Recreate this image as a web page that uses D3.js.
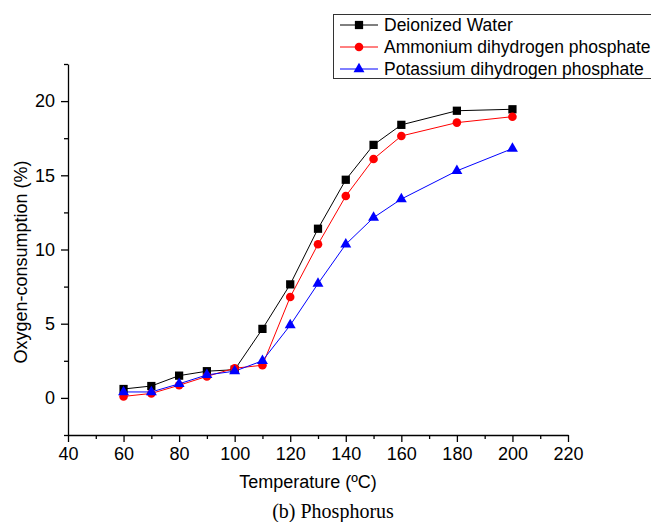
<!DOCTYPE html>
<html>
<head>
<meta charset="utf-8">
<script src="https://cdn.jsdelivr.net/npm/d3@7"></script>
<style>
  body { margin: 0; background: #fff; }
  text { font-family: Arial, "Liberation Sans", Helvetica, sans-serif; }
</style>
</head>
<body>
<div id="chart"></div>
<script>
// Data
const temperatures = [60, 70, 80, 90, 100, 110, 120, 130, 140, 150, 160, 180, 200];
const deionizedWater = [0.6, 0.8, 1.5, 1.8, 1.9, 4.65, 7.65, 11.4, 14.7, 17.05, 18.4, 19.35, 19.45];
const ammoniumPhosphate = [0.1, 0.3, 0.85, 1.45, 2.0, 2.2, 6.8, 10.35, 13.6, 16.1, 17.65, 18.55, 18.95];
const potassiumPhosphate = [0.4, 0.4, 0.95, 1.55, 1.8, 2.5, 4.9, 7.7, 10.35, 12.15, 13.4, 15.3, 16.8];
const seriesNames = ["Deionized Water", "Ammonium dihydrogen phosphate", "Potassium dihydrogen phosphate"];
const xTicks = [40, 60, 80, 100, 120, 140, 160, 180, 200, 220];
const yTicks = [0, 5, 10, 15, 20];

const width = 651, height = 522;
const margin = { left: 68, right: 83, top: 64, bottom: 87 };

const svg = d3.select("#chart").append("svg")
    .attr("width", width)
    .attr("height", height);

const x = d3.scaleLinear().domain([40, 220]).range([margin.left, width - margin.right]);
const y = d3.scaleLinear().domain([-2.5, 22.5]).range([height - margin.bottom, margin.top]);

// Minor ticks
const xMinor = d3.range(50, 220, 20);
const yMinor = [-2.5, 2.5, 7.5, 12.5, 17.5, 22.5];

svg.append("g")
    .attr("transform", `translate(0,${y(-2.5)})`)
    .call(d3.axisBottom(x).tickValues(xTicks).tickSize(7).tickPadding(5).tickSizeOuter(0));
svg.append("g")
    .attr("transform", `translate(0,${y(-2.5)})`)
    .call(d3.axisBottom(x).tickValues(xMinor).tickSize(4).tickFormat("").tickSizeOuter(0))
    .select(".domain").remove();

svg.append("g")
    .attr("transform", `translate(${x(40)},0)`)
    .call(d3.axisLeft(y).tickValues(yTicks).tickSize(7).tickPadding(6).tickSizeOuter(0));
svg.append("g")
    .attr("transform", `translate(${x(40)},0)`)
    .call(d3.axisLeft(y).tickValues(yMinor).tickSize(4).tickFormat("").tickSizeOuter(0))
    .select(".domain").remove();

svg.selectAll(".tick text").attr("font-size", 18).attr("fill", "#000")
    .attr("font-family", "Arial, 'Liberation Sans', sans-serif");
svg.selectAll(".domain, .tick line").attr("stroke", "#000").attr("stroke-width", 1.3);

// Axis titles
svg.append("text")
    .attr("x", 308)
    .attr("y", 488)
    .attr("text-anchor", "middle")
    .attr("font-size", 18)
    .text("Temperature (ºC)");

svg.append("text")
    .attr("transform", "translate(27,262) rotate(-90)")
    .attr("text-anchor", "middle")
    .attr("font-size", 18)
    .text("Oxygen-consumption (%)");

svg.append("text")
    .attr("x", 333)
    .attr("y", 518)
    .attr("text-anchor", "middle")
    .attr("font-size", 20)
    .style("font-family", "'Liberation Serif', 'Times New Roman', serif")
    .text("(b) Phosphorus");

// Series
const series = [
    { name: seriesNames[0], values: deionizedWater, color: "#000", shape: d3.symbolSquare, size: 68 },
    { name: seriesNames[1], values: ammoniumPhosphate, color: "#ff0000", shape: d3.symbolCircle, size: 58 },
    { name: seriesNames[2], values: potassiumPhosphate, color: "#0000ff", shape: d3.symbolTriangle, size: 52 }
];

const line = d3.line()
    .x((d, i) => x(temperatures[i]))
    .y(d => y(d));

series.forEach(s => {
    svg.append("path")
        .datum(s.values)
        .attr("fill", "none")
        .attr("stroke", s.color)
        .attr("stroke-width", 1)
        .attr("d", line);
});

series.forEach(s => {
    svg.append("g")
        .selectAll("path")
        .data(s.values)
        .enter()
        .append("path")
        .attr("transform", (d, i) => `translate(${x(temperatures[i])},${y(d)})`)
        .attr("d", d3.symbol().type(s.shape).size(s.size))
        .attr("fill", s.color);
});

// Legend
const legend = svg.append("g").attr("transform", "translate(333,14)");
legend.append("rect")
    .attr("x", 0.5).attr("y", 0.5)
    .attr("width", 340).attr("height", 64)
    .attr("fill", "#fff")
    .attr("stroke", "#333")
    .attr("stroke-width", 1);

series.forEach((s, i) => {
    const row = legend.append("g").attr("transform", `translate(0,${11 + i * 22})`);
    row.append("line")
        .attr("x1", 7).attr("x2", 45)
        .attr("stroke", s.color).attr("stroke-width", 1);
    row.append("path")
        .attr("transform", "translate(26,0)")
        .attr("d", d3.symbol().type(s.shape).size(s.size))
        .attr("fill", s.color);
    row.append("text")
        .attr("x", 51)
        .attr("dy", "0.36em")
        .attr("font-size", 17.5)
        .text(s.name);
});
</script>
</body>
</html>
